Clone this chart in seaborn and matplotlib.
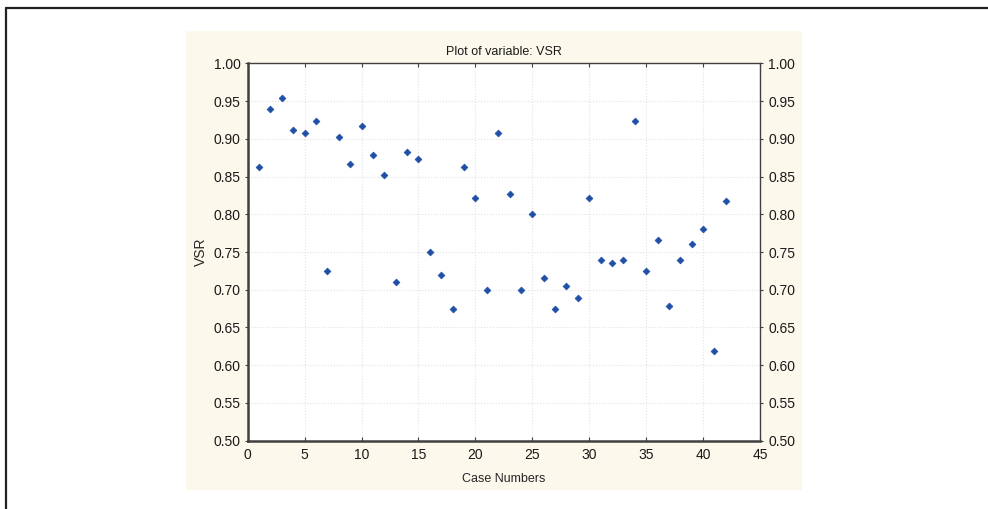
import numpy as np
import pandas as pd
import matplotlib.pyplot as plt
import seaborn as sns
from matplotlib.patches import Rectangle
from matplotlib.lines import Line2D

# values
case_numbers = list(range(1, 43))
vsr = [0.862, 0.939, 0.954, 0.912, 0.908, 0.923, 0.725, 0.902, 0.867, 0.917,
       0.878, 0.852, 0.710, 0.882, 0.873, 0.750, 0.720, 0.674, 0.862, 0.822,
       0.700, 0.908, 0.827, 0.700, 0.801, 0.715, 0.674, 0.705, 0.689, 0.822,
       0.740, 0.735, 0.740, 0.923, 0.725, 0.766, 0.679, 0.740, 0.761, 0.781,
       0.619, 0.817]
y_ticks = [0.50, 0.55, 0.60, 0.65, 0.70, 0.75, 0.80, 0.85, 0.90, 0.95, 1.00]
x_ticks = [0, 5, 10, 15, 20, 25, 30, 35, 40, 45]

df = pd.DataFrame({'Case Numbers': case_numbers, 'VSR': vsr})

sns.set_style('white')
plt.rcParams['font.family'] = ['Liberation Sans', 'DejaVu Sans']
plt.rcParams['text.color'] = '#1a1a1a'
plt.rcParams['xtick.labelcolor'] = '#1a1a1a'
plt.rcParams['ytick.labelcolor'] = '#1a1a1a'

fig = plt.figure(figsize=(9.88, 5.09), dpi=100)

# cream panel behind the plot (below the axes), plus the frame lines at top and left
fig.patches.append(Rectangle((0.188, 0.037), 0.624, 0.902, transform=fig.transFigure,
                             facecolor='#fcf8eb', edgecolor='none', zorder=-1))
fig.lines.append(Line2D([0.0065, 0.0065], [0.0, 0.984], transform=fig.transFigure,
                        color='#222222', lw=1.6))
fig.lines.append(Line2D([0.0065, 1.0], [0.984, 0.984], transform=fig.transFigure,
                        color='#222222', lw=1.6))

ax = fig.add_axes([0.2507, 0.1342, 0.5185, 0.7414])
ax.set_facecolor('white')

sns.scatterplot(data=df, x='Case Numbers', y='VSR', marker='D', s=12,
                color='#1f4fa6', edgecolor='#1f4fa6', linewidth=0.5, ax=ax, zorder=3)

ax.set_xlim(0, 45)
ax.set_ylim(0.5, 1.0)
ax.set_xticks(x_ticks)
ax.set_yticks(y_ticks)
ax.set_yticklabels([f'{t:.2f}' for t in y_ticks])
ax.grid(True, color='#e2e2e2', linestyle=':', linewidth=0.8)

for side in ['left', 'bottom']:
    ax.spines[side].set_color('#404040')
    ax.spines[side].set_linewidth(1.8)
for side in ['top', 'right']:
    ax.spines[side].set_color('#404040')
    ax.spines[side].set_linewidth(1.0)

ax.tick_params(axis='x', direction='in', length=3, width=0.8, color='#404040',
               top=True, bottom=True, labelsize=10, pad=5)
ax.tick_params(axis='y', direction='out', length=2, width=0.8, color='#404040',
               labelsize=10, pad=3)

ax.set_xlabel('Case Numbers', fontsize=9, labelpad=8)
ax.set_ylabel('VSR', fontsize=10, labelpad=4)
ax.set_title('Plot of variable: VSR', fontsize=9, pad=6)

ax2 = ax.twinx()
ax2.set_ylim(ax.get_ylim())
ax2.set_yticks(y_ticks)
ax2.set_yticklabels([f'{t:.2f}' for t in y_ticks])
ax2.tick_params(axis='y', direction='out', length=2, width=0.8, color='#404040',
                labelsize=10, pad=4)
for s in ax2.spines.values():
    s.set_visible(False)

fig.savefig('out.png', dpi=100)
